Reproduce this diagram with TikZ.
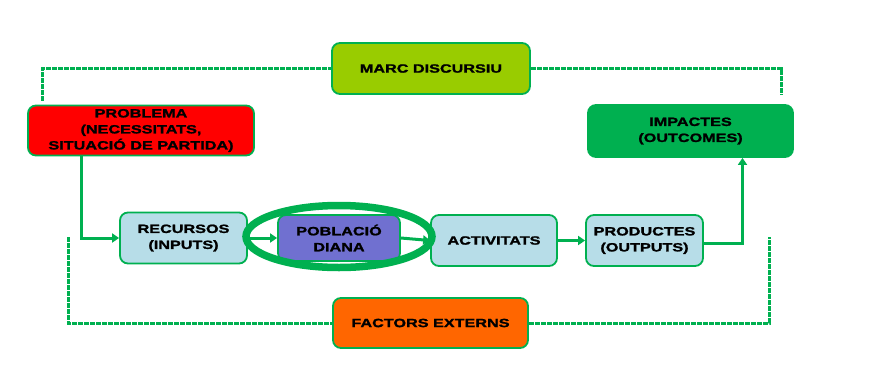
\documentclass[tikz,border=0pt]{standalone}
\usepackage{fontspec}
\setmainfont[FakeStretch=1.35,FakeBold=1.5]{Liberation Sans}
\usetikzlibrary{arrows.meta,shapes.geometric}
\definecolor{lgreen}{RGB}{0,176,80}
\definecolor{marcc}{RGB}{153,204,0}
\definecolor{probc}{RGB}{255,0,0}
\definecolor{impc}{RGB}{0,176,80}
\definecolor{lblue}{RGB}{183,221,232}
\definecolor{pobc}{RGB}{112,112,208}
\definecolor{factc}{RGB}{255,102,0}
\tikzset{
  box/.style={draw=lgreen, line width=1.8pt, rounded corners=8pt, inner sep=0pt,
    align=center, font=\fontsize{12}{16}\selectfont\bfseries, text=black},
  conn/.style={draw=lgreen, line width=3pt, -{Triangle[length=7pt,width=9pt]}},
  dotline/.style={draw=lgreen, line width=3pt, dash pattern=on 5pt off 1pt},
}
\begin{document}
\begin{tikzpicture}[x=1pt,y=-1pt]
\useasboundingbox (0,0) rectangle (889,386);
\node[box, fill=marcc, minimum width=198pt, minimum height=51pt] (marc) at (431,68.5) {MARC DISCURSIU};
\node[box, fill=probc, minimum width=226pt, minimum height=50pt] (prob) at (141,130.5) {PROBLEMA\\(NECESSITATS,\\SITUACIÓ DE PARTIDA)};
\node[box, fill=impc, minimum width=205pt, minimum height=52pt] (imp) at (690.5,131) {IMPACTES\\(OUTCOMES)};
\node[box, fill=lblue, minimum width=127pt, minimum height=51pt] (rec) at (183.5,238) {RECURSOS\\(INPUTS)};
\node[box, fill=pobc, minimum width=122pt, minimum height=46pt] (pob) at (339,238) {POBLACIÓ\\DIANA};
\node[box, fill=lblue, minimum width=126pt, minimum height=51pt] (act) at (494,240.5) {ACTIVITATS};
\node[box, fill=lblue, minimum width=117pt, minimum height=51pt] (prod) at (644.5,240.5) {PRODUCTES\\(OUTPUTS)};
\node[box, fill=factc, minimum width=195pt, minimum height=50pt] (fact) at (430.5,323) {FACTORS EXTERNS};

\coordinate (bl) at (68,237);
\coordinate (br) at (769,237);

% dotted frame
\draw[dotline, shorten <=4pt] ([xshift=-99pt]prob.north) |- (marc.west);
\draw[dotline, shorten >=10pt] (marc.east) -| ([xshift=91pt]imp.north);
\draw[dotline] (bl) |- (fact.west);
\draw[dotline] (fact.east) -| (br);

% connectors
\draw[conn] ([xshift=-60pt]prob.south) |- (rec.west);
\draw[conn] (rec.east) -- (pob.west);
\draw[conn] (pob.east) -- (act.west);
\draw[conn] (act.east) -- (prod.east -| prod.west);
\draw[conn] ([yshift=-3pt]prod.east) -| ([xshift=52pt]imp.south);

% target ellipse
\node[ellipse, draw=lgreen, line width=7.5pt, minimum width=186pt, minimum height=62pt, inner sep=0pt] (target) at (339,236.5) {};
\end{tikzpicture}
\end{document}
